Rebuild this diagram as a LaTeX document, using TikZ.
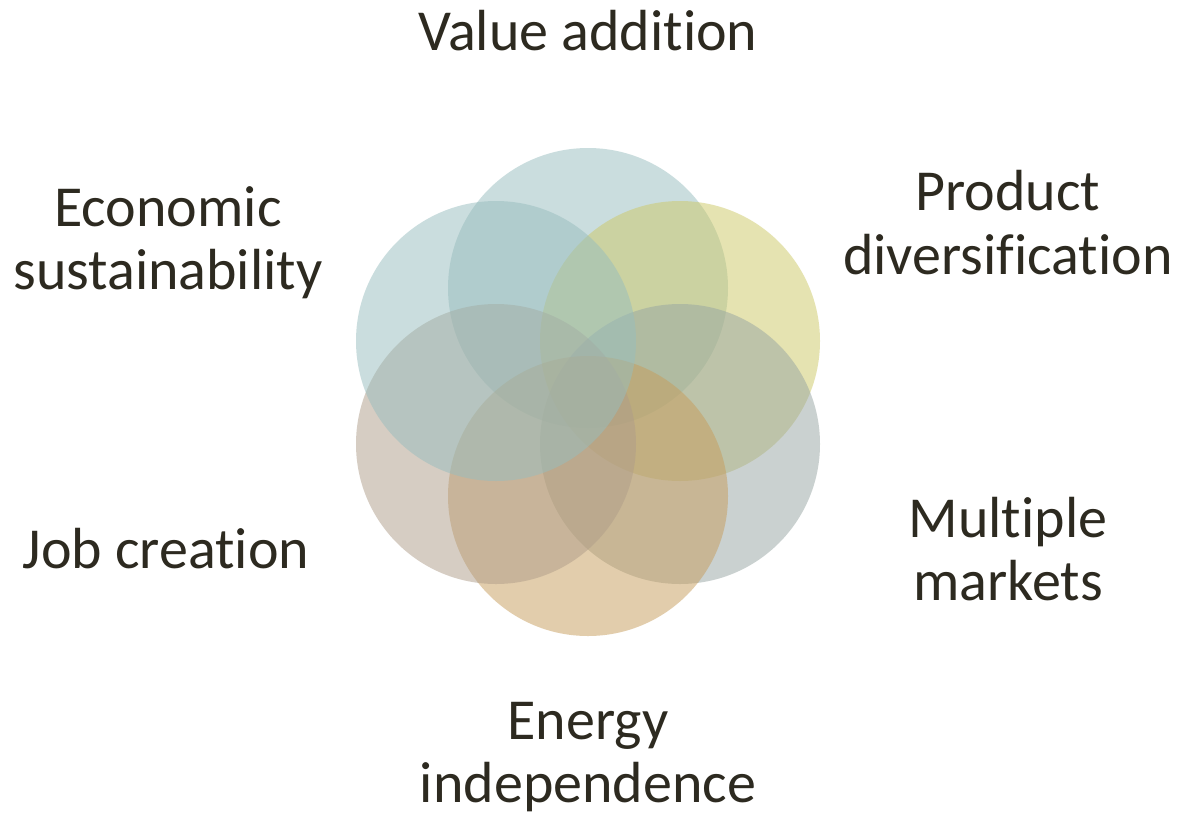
\documentclass[tikz,border=0pt]{standalone}
\usepackage{fontspec}
\setmainfont[RawFeature={-liga;-clig;-dlig;-calt;-rlig}]{Carlito}
\definecolor{txt}{HTML}{2D2A20}
\definecolor{cTop}{HTML}{97BDBE}
\definecolor{cUR}{HTML}{CDC965}
\definecolor{cLR}{HTML}{97A5A2}
\definecolor{cB}{HTML}{C79D5B}
\definecolor{cLL}{HTML}{AF9D89}
\definecolor{cUL}{HTML}{97BDBE}
\tikzset{
  petal/.style={fill=#1, fill opacity=0.5, draw=none},
  lbl/.style={anchor=base, inner sep=0pt, text=txt, font=\fontsize{58}{60}\selectfont}
}
\begin{document}
\begin{tikzpicture}[x=1pt,y=-1pt]
\useasboundingbox (0,0) rectangle (1179,815);
\fill[white] (0,0) rectangle (1179,815);
% circles
\fill[petal=cTop] (588,288) circle (140);
\fill[petal=cUR] (680,341) circle (140);
\fill[petal=cLR] (680,444) circle (140);
\fill[petal=cB] (588,496) circle (140);
\fill[petal=cLL] (496,444) circle (140);
\fill[petal=cUL] (496,341) circle (140);
% labels
\node[lbl] (va) at (588,50) {Value addition};
\node[lbl] (es1) at (168,226) {Economic};
\node[lbl] (es2) at (168,289) {sustainability};
\node[lbl] (pd1) at (1008,210) {Product};
\node[lbl] (pd2) at (1008,274) {diversification};
\node[lbl] (mm1) at (1008,537) {Multiple};
\node[lbl] (mm2) at (1008,600) {markets};
\node[lbl] (jc) at (166,568) {Job creation};
\node[lbl] (ei1) at (588,739) {Energy};
\node[lbl] (ei2) at (588,802) {independence};
\end{tikzpicture}
\end{document}
